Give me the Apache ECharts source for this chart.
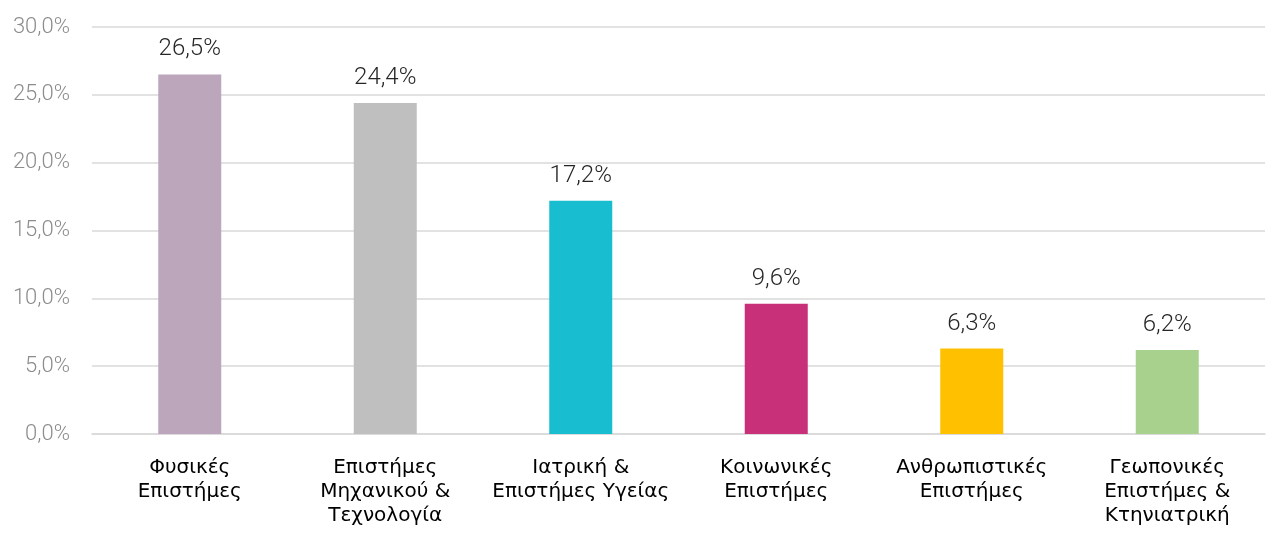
<!DOCTYPE html>
<html>
<head>
<meta charset="utf-8">
<style>
  html, body { margin: 0; padding: 0; background: #fff; }
  #chart { width: 1277px; height: 543px; }
</style>
<script src="https://cdn.jsdelivr.net/npm/echarts@6/dist/echarts.min.js"></script>
</head>
<body>
<div id="chart"></div>
<script>
// Share of researchers by scientific field (%)
const categories = [
  'Φυσικές\nΕπιστήμες',
  'Επιστήμες\nΜηχανικού &\nΤεχνολογία',
  'Ιατρική &\nΕπιστήμες Υγείας',
  'Κοινωνικές\nΕπιστήμες',
  'Ανθρωπιστικές\nΕπιστήμες',
  'Γεωπονικές\nΕπιστήμες &\nΚτηνιατρική'
];
const values = [26.5, 24.4, 17.2, 9.6, 6.3, 6.2];
const barColors = ['#BCA6BC', '#BFBFBF', '#18BECF', '#C8307A', '#FFC000', '#A9D18E'];
const yTicks = [0, 5, 10, 15, 20, 25, 30];

const fmt = v => v.toFixed(1).replace('.', ',') + '%';

const chart = echarts.init(document.getElementById('chart'));
chart.setOption({
  animation: false,
  grid: { left: 92, right: 12, top: 27, bottom: 109, containLabel: false },
  xAxis: {
    type: 'category',
    data: categories,
    axisLine: { show: true, lineStyle: { color: '#D9D9D9', width: 1.5 } },
    axisTick: { show: false },
    axisLabel: {
      interval: 0,
      margin: 22,
      color: '#000',
      fontFamily: 'DejaVu Sans',
      fontSize: 20,
      lineHeight: 24
    }
  },
  yAxis: {
    type: 'value',
    min: yTicks[0],
    max: yTicks[yTicks.length - 1],
    interval: 5,
    axisLine: { show: false },
    axisTick: { show: false },
    splitLine: { lineStyle: { color: '#D9D9D9', width: 1.5 } },
    axisLabel: {
      margin: 22,
      color: '#8C8C8C',
      fontFamily: 'Roboto',
      fontWeight: 300,
      fontSize: 22,
      formatter: v => fmt(v)
    }
  },
  series: [{
    type: 'bar',
    data: values.map((v, i) => ({ value: v, itemStyle: { color: barColors[i] } })),
    barWidth: 63,
    label: {
      show: true,
      position: 'top',
      distance: 13,
      color: '#262626',
      fontFamily: 'Roboto',
      fontWeight: 300,
      fontSize: 24,
      formatter: p => fmt(p.value)
    }
  }]
});
</script>
</body>
</html>
